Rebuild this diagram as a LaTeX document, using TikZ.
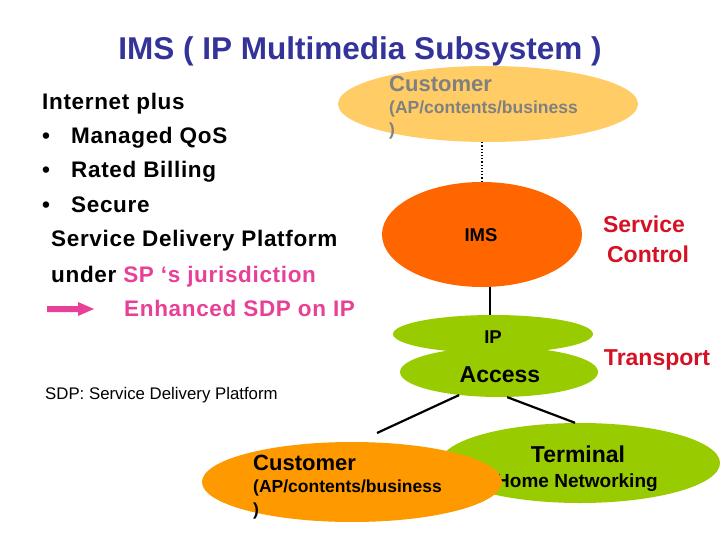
\documentclass[tikz,border=0pt]{standalone}
\usepackage{fontspec}
\setmainfont{Liberation Sans}
\newfontfamily\leftfont[LetterSpace=3]{Liberation Sans}
\usetikzlibrary{shapes.geometric}
\definecolor{navy}{RGB}{51,51,153}
\definecolor{ctrlred}{RGB}{212,18,36}
\definecolor{spink}{RGB}{232,64,150}
\definecolor{txtgray}{RGB}{128,128,128}
\definecolor{lorange}{RGB}{255,204,102}
\definecolor{imsorange}{RGB}{255,102,0}
\definecolor{corange}{RGB}{255,153,0}
\definecolor{lgreen}{RGB}{153,204,0}
\tikzset{
  blob/.style={ellipse, inner sep=0pt, draw=none},
  bigtxt/.style={font=\fontsize{23}{27}\selectfont\bfseries},
  midtxt/.style={font=\fontsize{17.5}{21}\selectfont\bfseries},
  lefttxt/.style={anchor=base west, inner sep=0pt, font=\leftfont\fontsize{22.5}{27}\selectfont\bfseries},
  labred/.style={anchor=base, inner sep=0pt, text=ctrlred, font=\fontsize{23}{27}\selectfont\bfseries},
  inlab/.style={anchor=base, inner sep=0pt},
  link/.style={line width=2.2pt, black}
}
\begin{document}
\begin{tikzpicture}[x=1pt,y=-1pt]
\useasboundingbox (0,0) rectangle (720,540);
% title
\node[anchor=base, inner sep=0pt, text=navy, font=\fontsize{31.5}{36}\selectfont\bfseries] (title) at (360,60) {IMS ( IP Multimedia Subsystem )};
% left text
\node[lefttxt] (l1) at (42,110) {Internet plus};
\node[lefttxt] (b1) at (42,144) {•};
\node[lefttxt] (l2) at (71,144) {Managed QoS};
\node[lefttxt] (b2) at (42,178) {•};
\node[lefttxt] (l3) at (71,178) {Rated Billing};
\node[lefttxt] (b3) at (42,213) {•};
\node[lefttxt] (l4) at (71,213) {Secure};
\node[lefttxt] (l5) at (51,247) {Service Delivery Platform};
\node[lefttxt] (l6) at (51,282) {under \textcolor{spink}{SP ‘s jurisdiction}};
\node[lefttxt, text=spink] (l7) at (124,316) {Enhanced SDP on IP};
\fill[spink] (47,306) -- (78,306) -- (78,302) -- (94,309) -- (78,316) -- (78,312) -- (47,312) -- cycle;
\node[anchor=base west, inner sep=0pt, font=\fontsize{16.8}{19}\selectfont] (sdp) at (45,399) {SDP: Service Delivery Platform};
% top customer
\node[blob, fill=lorange, minimum width=300pt, minimum height=76pt] (cust1) at (488,104) {};
\node[anchor=base west, inner sep=0pt, text=txtgray, font=\fontsize{22}{26}\selectfont\bfseries] (c1a) at (389,92) {Customer};
\node[anchor=base west, inner sep=0pt, text=txtgray, midtxt] (c1b) at (389,114) {(AP/contents/business};
\node[anchor=base west, inner sep=0pt, text=txtgray, midtxt] (c1c) at (389,136) {)};
% IMS
\node[blob, fill=imsorange, minimum width=200pt, minimum height=105pt] (ims) at (482,234.5) {};
\node[inlab, font=\fontsize{18.5}{22}\selectfont\bfseries] (imst) at (481,241) {IMS};
\draw[dotted, line width=1.2pt] (cust1.south -| ims.north) -- (ims.north);
% IP and Access
\node[blob, fill=lgreen, minimum width=200pt, minimum height=38pt] (ip) at (493,334) {};
\node[blob, fill=lgreen, minimum width=198pt, minimum height=50pt] (access) at (499,372) {};
\node[inlab, font=\fontsize{18.5}{22}\selectfont\bfseries] (ipt) at (493,343) {IP};
\node[inlab, bigtxt] (acct) at (500,382) {Access};
\draw[line width=2.2pt] (ip.north -| 490,0) -- (ims.south -| 490,0);
% labels
\node[labred] (sv) at (644,233) {Service};
\node[labred] (ct) at (648,262) {Control};
\node[labred] (tr) at (657,365) {Transport};
% terminal
\node[blob, fill=lgreen, minimum width=280pt, minimum height=80pt] (term) at (580,463) {};
\node[inlab, bigtxt] (termt) at (578,462) {Terminal};
\node[inlab, font=\fontsize{19}{22}\selectfont\bfseries] (home) at (577,487) {Home Networking};
% bottom customer
\node[blob, fill=corange, minimum width=300pt, minimum height=80pt] (cust2) at (352,482) {};
\node[anchor=base west, inner sep=0pt, font=\fontsize{22}{26}\selectfont\bfseries] (c2a) at (253,470) {Customer};
\node[anchor=base west, inner sep=0pt, midtxt] (c2b) at (253,492) {(AP/contents/business};
\node[anchor=base west, inner sep=0pt, midtxt] (c2c) at (253,515) {)};
% links from access
\coordinate (cl) at (377,433);
\draw[link] (access.-150) -- (cl);
\draw[link] (access.-72) -- (term.97);
\end{tikzpicture}
\end{document}
